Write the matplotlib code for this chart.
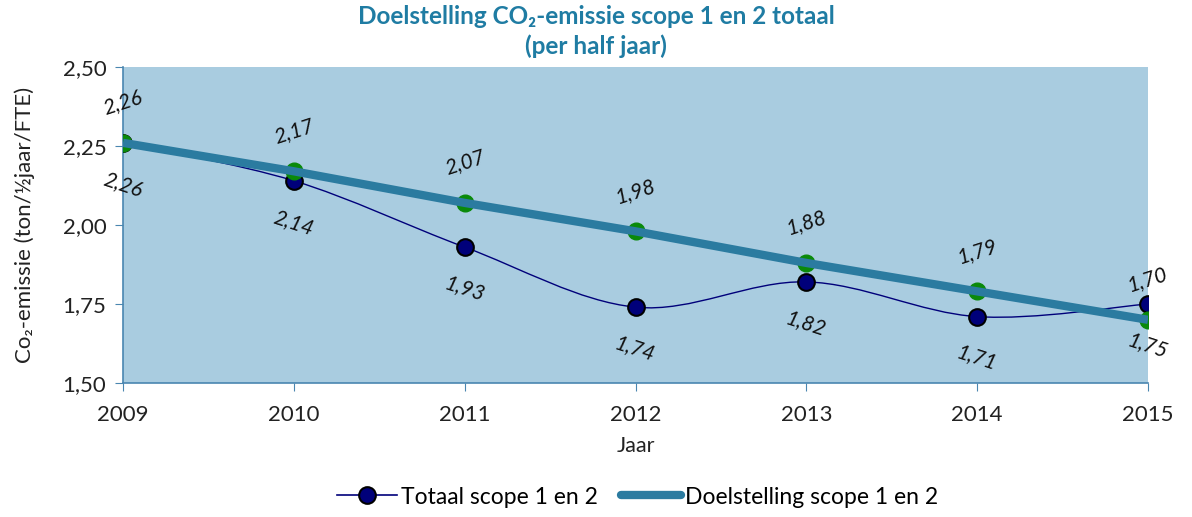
import matplotlib

matplotlib.use("Agg")
import matplotlib.pyplot as plt
from matplotlib.path import Path
from matplotlib.patches import PathPatch
from matplotlib.lines import Line2D
from matplotlib.ticker import FuncFormatter

# --- data ---
jaren = [2009, 2010, 2011, 2012, 2013, 2014, 2015]
totaal = [2.26, 2.14, 1.93, 1.74, 1.82, 1.71, 1.75]
doel = [2.26, 2.17, 2.07, 1.98, 1.88, 1.79, 1.70]
y_ticks = [1.50, 1.75, 2.00, 2.25, 2.50]

TEAL = "#2b7ba0"
TITLE_C = "#1f7ca3"
BG = "#a9cce0"
NAVY = "#00007a"
GREEN = "#0a8a0a"

plt.rcParams["font.family"] = ["Lato", "DejaVu Sans"]

fig = plt.figure(figsize=(11.92, 5.17), dpi=100)
ax = fig.add_axes([123 / 1192, 1 - 383 / 517, (1148 - 123) / 1192, (383 - 67) / 517])
ax.set_facecolor(BG)


def smooth_path(xs, ys, t=1 / 6):
    # Excel-achtige vloeiende lijn (Catmull-Rom als bezier)
    verts = [(xs[0], ys[0])]
    codes = [Path.MOVETO]
    n = len(xs)
    for i in range(n - 1):
        p0 = (xs[max(i - 1, 0)], ys[max(i - 1, 0)])
        p1 = (xs[i], ys[i])
        p2 = (xs[i + 1], ys[i + 1])
        p3 = (xs[min(i + 2, n - 1)], ys[min(i + 2, n - 1)])
        c1 = (p1[0] + (p2[0] - p0[0]) * t, p1[1] + (p2[1] - p0[1]) * t)
        c2 = (p2[0] - (p3[0] - p1[0]) * t, p2[1] - (p3[1] - p1[1]) * t)
        verts += [c1, c2, p2]
        codes += [Path.CURVE4] * 3
    return Path(verts, codes)


ax.add_patch(PathPatch(smooth_path(jaren, totaal), fill=False, edgecolor=NAVY, lw=1.0, zorder=3))
ax.plot(jaren, totaal, ls="none", marker="o", ms=12, mfc=NAVY, mec="black", mew=1.5, zorder=4)
ax.plot(jaren, doel, ls="none", marker="o", ms=12, mfc=GREEN, mec=GREEN, zorder=5)
ax.plot(jaren, doel, color=TEAL, lw=6, solid_capstyle="butt", zorder=6)

lbl = dict(fontsize=15, style="italic", color="#111111", ha="center", va="center", zorder=7)
for x, v in zip(jaren, doel):
    ax.annotate(f"{v:.2f}".replace(".", ","), (x, v), xytext=(0, 29), textcoords="offset points",
                rotation=18, **lbl)
for x, v in zip(jaren, totaal):
    ax.annotate(f"{v:.2f}".replace(".", ","), (x, v), xytext=(0, -30), textcoords="offset points",
                rotation=-18, **lbl)

ax.set_xlim(2009, 2015)
ax.set_ylim(1.50, 2.50)
ax.set_xticks(jaren)
ax.set_yticks(y_ticks)
ax.yaxis.set_major_formatter(FuncFormatter(lambda v, _: f"{v:.2f}".replace(".", ",")))
ax.tick_params(axis="both", labelsize=16, colors="#4a86b0", labelcolor="#222222", length=6, direction="out")
ax.tick_params(axis="x", pad=10)
ax.tick_params(axis="y", pad=6)
for s in ("top", "right"):
    ax.spines[s].set_visible(False)
for s in ("left", "bottom"):
    ax.spines[s].set_color("#4a86b0")
    ax.spines[s].set_linewidth(1.2)

ax.set_xlabel("Jaar", fontsize=15.5, color="#222222", labelpad=8)
ax.set_ylabel("Co₂-emissie (ton/½jaar/FTE)", fontsize=16, color="#222222", labelpad=20)

fig.text(0.5, 1 - 17 / 517, "Doelstelling CO₂-emissie scope 1 en 2 totaal", ha="center", va="center",
         fontsize=17.5, fontweight="bold", color=TITLE_C)
fig.text(0.5, 1 - 46 / 517, "(per half jaar)", ha="center", va="center",
         fontsize=17.5, fontweight="bold", color=TITLE_C)

handles = [
    Line2D([], [], color=NAVY, lw=1.2, marker="o", ms=12, mfc=NAVY, mec="black", mew=1.5),
    Line2D([], [], color=TEAL, lw=6, solid_capstyle="round"),
]
fig.legend(handles, ["Totaal scope 1 en 2", "Doelstelling scope 1 en 2"], loc="center",
           bbox_to_anchor=(0.535, 1 - 497 / 517), ncol=2, frameon=False, fontsize=16.5,
           handlelength=2.6, handletextpad=0.2, columnspacing=1.0)

fig.savefig("out.png", dpi=100)
